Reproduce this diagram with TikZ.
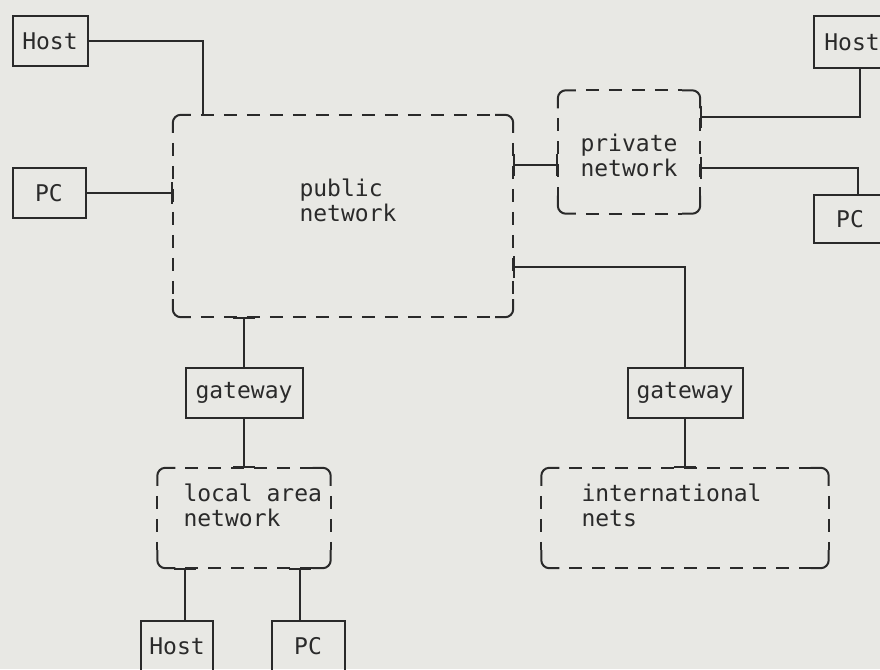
\documentclass[tikz,border=0pt]{standalone}
\usepackage{fontspec}
\setmonofont{DejaVu Sans Mono}
\usetikzlibrary{arrows.meta,calc}
\definecolor{paper}{HTML}{E8E8E4}
\definecolor{ink}{HTML}{2A2A2A}
\tikzset{
  lbl/.style={font=\ttfamily\fontsize{23}{25}\selectfont, text=ink},
  box/.style={lbl, draw=ink, line width=2pt, minimum height=50pt, inner sep=0pt},
  net/.style={inner sep=0pt},
  frame/.style={draw=ink, line width=2pt, rounded corners=8pt},
  dashes/.style={dash pattern=on 13pt off 10pt, dash phase=13pt},
  wire/.style={draw=ink, line width=2pt},
  tee/.style={{Bar[width=22pt]}-},
  ttee/.style={{Bar[width=22pt]}-{Bar[width=22pt]}},
}
\newcommand\netframe[1]{%
  \draw[frame] ($(#1.north west)+(0,18)$) |- ($(#1.north west)+(18,0)$);
  \draw[frame] ($(#1.north east)+(-18,0)$) -| ($(#1.north east)+(0,18)$);
  \draw[frame] ($(#1.south east)+(0,-18)$) |- ($(#1.south east)+(-18,0)$);
  \draw[frame] ($(#1.south west)+(18,0)$) -| ($(#1.south west)+(0,-18)$);
  \draw[frame,dashes] ($(#1.north west)+(18,0)$) -- ($(#1.north east)+(-18,0)$);
  \draw[frame,dashes] ($(#1.south west)+(18,0)$) -- ($(#1.south east)+(-18,0)$);
  \draw[frame,dashes] ($(#1.north west)+(0,18)$) -- ($(#1.south west)+(0,-18)$);
  \draw[frame,dashes] ($(#1.north east)+(0,18)$) -- ($(#1.south east)+(0,-18)$);
}
\begin{document}
\begin{tikzpicture}[x=1pt,y=-1pt]
\useasboundingbox (0,0) rectangle (880,669);
\fill[paper] (0,0) rectangle (880,669);
\clip (0,0) rectangle (880,669);

% solid boxes
\node[box, minimum width=75pt] (hostL) at (50,41) {Host};
\node[box, minimum width=73pt] (pcL) at (49,193) {PC};
\node[box, minimum width=76pt, minimum height=51pt] (hostR) at (852,42) {Host};
\node[box, minimum width=72pt, minimum height=48pt] (pcR) at (850,219) {PC};
\node[box, minimum width=117pt] (gw1) at (244,393) {gateway};
\node[box, minimum width=115pt] (gw2) at (685,393) {gateway};
\node[box, minimum width=72pt] (hostB) at (177,646) {Host};
\node[box, minimum width=73pt] (pcB) at (308,646) {PC};

% network areas
\node[net, minimum width=340pt, minimum height=202pt] (pub) at (343,216) {};
\node[net, minimum width=142pt, minimum height=123pt] (priv) at (629,152) {};
\node[net, minimum width=173pt, minimum height=100pt] (lan) at (244,518) {};
\node[net, minimum width=287pt, minimum height=100pt] (intl) at (685,518) {};
\netframe{pub}
\netframe{priv}
\netframe{lan}
\netframe{intl}

\node[lbl, align=left, anchor=west] (pubtxt) at (296,200) {public\\network};
\node[lbl, align=left] (privtxt) at (629,155) {private\\network};
\node[lbl, align=left, anchor=west] (lantxt) at (180,505) {local area\\network};
\node[lbl, align=left, anchor=west] (intltxt) at (578,505) {international\\nets};

% connectors
\draw[wire] (hostL.east) -| ($(pub.north west)+(30,0)$);
\draw[wire,tee] (pcL.east -| pub.west) -- (pcL.east);
\draw[wire,ttee] (pub.east |- 0,165) -- (priv.west |- 0,165);
\draw[wire,tee] (priv.east |- 0,117) -| (hostR.south -| 860,0);
\draw[wire,tee] (priv.east |- 0,168) -| (pcR.north -| 858,0);
\draw[wire,tee] (pub.east |- 0,267) -| (gw2.north);
\draw[wire,tee] (intl.north) -- (gw2.south);
\draw[wire,tee] (pub.south -| gw1.north) -- (gw1.north);
\draw[wire,tee] (lan.north) -- (gw1.south);
\draw[wire,tee] (lan.south -| 185,0) -- (hostB.north -| 185,0);
\draw[wire,tee] (lan.south -| 300,0) -- (pcB.north -| 300,0);
\end{tikzpicture}
\end{document}
